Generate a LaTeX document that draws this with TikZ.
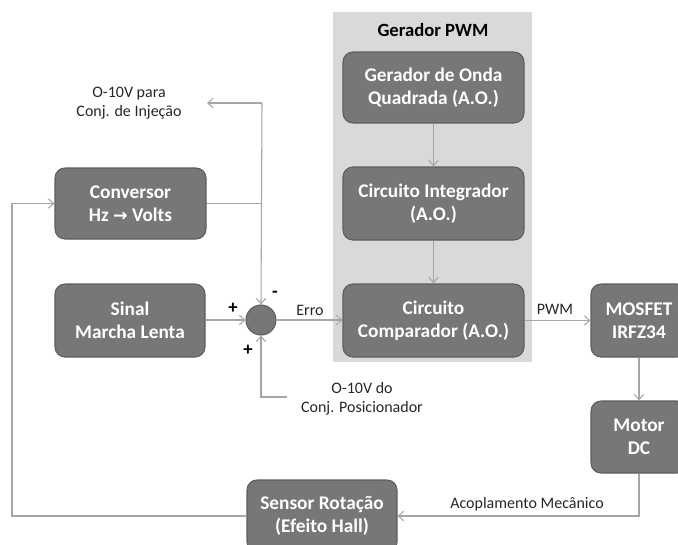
\documentclass[tikz,border=0pt]{standalone}
\usepackage{fontspec}
\setmainfont{Carlito}
\newfontfamily\symf{DejaVu Sans}
\usetikzlibrary{arrows.meta}
\definecolor{boxfill}{HTML}{777777}
\definecolor{boxline}{HTML}{5E5E5E}
\definecolor{panel}{HTML}{D9D9D9}
\definecolor{wire}{HTML}{A6A6A6}
\tikzset{
  blk/.style={draw=boxline, line width=0.8pt, fill=boxfill, rounded corners=7.5pt,
    text=white, font=\fontsize{14.5}{17.5}\selectfont\bfseries, align=center, inner sep=0pt},
  lbl/.style={font=\fontsize{12}{14}\selectfont, align=center, text=black!85},
  sgn/.style={font=\fontsize{14}{14}\selectfont\bfseries},
  wireline/.style={draw=wire, line width=0.8pt},
  arr/.style={wireline, -{Straight Barb[length=4pt,width=7pt]}},
}
\begin{document}
\begin{tikzpicture}[x=0.75pt,y=-0.75pt]
\useasboundingbox (0,0) rectangle (678,544);
% panel
\fill[panel] (333,12) rectangle (532,362);
\node[font=\fontsize{14}{16}\selectfont\bfseries] (ptitle) at (433,30) {Gerador PWM};
% blocks
\node[blk, minimum width=181*0.75pt, minimum height=71*0.75pt] (ger) at (433.5,87.5) {Gerador de Onda\\Quadrada (A.O.)};
\node[blk, minimum width=181*0.75pt, minimum height=73*0.75pt] (integ) at (433.5,203.5) {Circuito Integrador\\(A.O.)};
\node[blk, minimum width=181*0.75pt, minimum height=73*0.75pt] (comp) at (433.5,320.5) {Circuito\\Comparador (A.O.)};
\node[blk, minimum width=151*0.75pt, minimum height=71*0.75pt] (conv) at (130.5,203.5) {Conversor\\Hz {\symf\bfseries\fontsize{13}{12}\selectfont →} Volts};
\node[blk, minimum width=150*0.75pt, minimum height=73*0.75pt] (sinal) at (130,320.5) {Sinal\\Marcha Lenta};
\node[blk, minimum width=96*0.75pt, minimum height=73*0.75pt] (mosfet) at (639,320.5) {MOSFET\\IRFZ34};
\node[blk, minimum width=96*0.75pt, minimum height=72*0.75pt] (motor) at (639,437) {Motor\\DC};
\node[blk, minimum width=150*0.75pt, minimum height=72*0.75pt] (sensor) at (322,516) {Sensor Rotação\\(Efeito Hall)};
\node[circle, draw=boxline, line width=0.8pt, fill=boxfill, minimum size=30*0.75pt, inner sep=0pt] (sum) at (261,320) {};
% labels
\node[lbl] (inj) at (129,103) {O-10V para\\Conj. de Injeção};
\node[lbl] (pos) at (362,399) {O-10V do\\Conj. Posicionador};
\node[lbl] (erro) at (310,310) {Erro};
\node[lbl] (pwm) at (555,309) {PWM};
\node[lbl] (acop) at (527,504) {Acoplamento Mecânico};
\node[sgn] (p1) at (233,308) {+};
\node[sgn] (m1) at (275,294) {-};
\node[sgn] (p2) at (248,350) {+};
% coordinates
\coordinate (topc) at (262,103);
\coordinate (injc) at (207,103);
\coordinate (posc) at (287,397);
\coordinate (leftc) at (12,516);
% connectors
\draw[wireline] (conv.east) -- (conv.east -| topc);
\draw[arr] (topc) -- (injc);
\draw[arr] (topc) -- (sum.north);
\draw[arr] (sinal.east |- sum.west) -- (sum.west);
\draw[arr] (posc) -| (sum.south);
\draw[arr] (sum.east) -- (comp.west |- sum.east);
\draw[arr] (ger.south) -- (integ.north);
\draw[arr] (integ.south) -- (comp.north);
\draw[arr] (comp.east) -- (mosfet.west);
\draw[arr] (mosfet.south) -- (motor.north);
\draw[arr] (motor.south) |- (sensor.east);
\draw[arr] (sensor.west) -- (leftc) |- (conv.west);
\end{tikzpicture}
\end{document}
